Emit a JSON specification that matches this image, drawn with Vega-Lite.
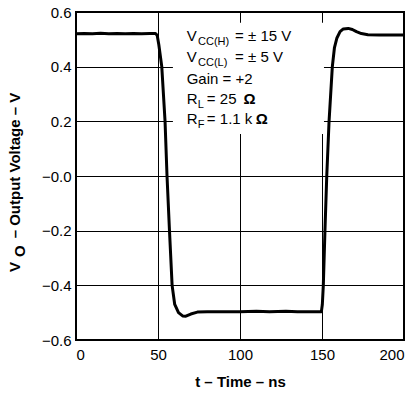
{
  "$schema": "https://vega.github.io/schema/vega-lite/v6.json",
  "width": 328,
  "height": 328,
  "autosize": "none",
  "padding": {"left": 76, "top": 12, "right": 12, "bottom": 54},
  "config": {
    "view": {"stroke": "black", "strokeWidth": 2},
    "font": "Liberation Sans"
  },
  "datasets": {
    "signal": [
      {"t": 0, "v": 0.52}, {"t": 5, "v": 0.521}, {"t": 10, "v": 0.52}, {"t": 15, "v": 0.522},
      {"t": 20, "v": 0.52}, {"t": 25, "v": 0.521}, {"t": 30, "v": 0.52}, {"t": 35, "v": 0.521},
      {"t": 40, "v": 0.52}, {"t": 45, "v": 0.521}, {"t": 48.5, "v": 0.521}, {"t": 49.5, "v": 0.515},
      {"t": 50.5, "v": 0.48}, {"t": 52.3, "v": 0.4}, {"t": 54.3, "v": 0.2}, {"t": 55.5, "v": 0.0},
      {"t": 57.0, "v": -0.2}, {"t": 58.6, "v": -0.4}, {"t": 60.2, "v": -0.47}, {"t": 62.5, "v": -0.5},
      {"t": 65, "v": -0.512}, {"t": 67, "v": -0.513}, {"t": 70, "v": -0.505}, {"t": 74, "v": -0.498},
      {"t": 80, "v": -0.497}, {"t": 90, "v": -0.497}, {"t": 100, "v": -0.497}, {"t": 110, "v": -0.495},
      {"t": 118, "v": -0.497}, {"t": 128, "v": -0.495}, {"t": 135, "v": -0.497}, {"t": 142, "v": -0.497},
      {"t": 149.6, "v": -0.497}, {"t": 150.2, "v": -0.47}, {"t": 150.8, "v": -0.4}, {"t": 151.8, "v": -0.2},
      {"t": 152.9, "v": 0.0}, {"t": 154.3, "v": 0.2}, {"t": 156.3, "v": 0.4}, {"t": 157.6, "v": 0.47},
      {"t": 159.1, "v": 0.505}, {"t": 161, "v": 0.528}, {"t": 163, "v": 0.538}, {"t": 166, "v": 0.54},
      {"t": 168.5, "v": 0.536}, {"t": 171, "v": 0.528}, {"t": 174, "v": 0.521}, {"t": 178, "v": 0.517},
      {"t": 185, "v": 0.516}, {"t": 200, "v": 0.516}
    ],
    "box": [{"t": 59.1, "t2": 151.2, "v": 0.154, "v2": 0.561}],
    "notes": [
      {"t": 67.5, "v": 0.494, "part": "main", "label": "V"},
      {"t": 74.4, "v": 0.494, "part": "sub", "label": "CC(H)"},
      {"t": 97, "v": 0.494, "part": "main", "label": "= ± 15 V"},
      {"t": 67.5, "v": 0.417, "part": "main", "label": "V"},
      {"t": 74.4, "v": 0.417, "part": "sub", "label": "CC(L)"},
      {"t": 97, "v": 0.417, "part": "main", "label": "= ± 5 V"},
      {"t": 67.5, "v": 0.337, "part": "main", "label": "Gain = +2"},
      {"t": 67.5, "v": 0.262, "part": "main", "label": "R"},
      {"t": 74.2, "v": 0.262, "part": "sub", "label": "L"},
      {"t": 79.8, "v": 0.262, "part": "main", "label": "= 25"},
      {"t": 102.2, "v": 0.262, "part": "bold", "label": "Ω"},
      {"t": 67.5, "v": 0.189, "part": "main", "label": "R"},
      {"t": 74.2, "v": 0.189, "part": "sub", "label": "F"},
      {"t": 79.8, "v": 0.189, "part": "main", "label": "= 1.1 k"},
      {"t": 109.6, "v": 0.189, "part": "bold", "label": "Ω"}
    ],
    "ytitle": [
      {"t": -37.2, "v": -0.351, "part": "main", "label": "V"},
      {"t": -37.2, "v": -0.296, "part": "sub", "label": "O"},
      {"t": -37.2, "v": -0.228, "part": "main", "label": "– Output Voltage – V"}
    ]
  },
  "encoding": {
    "x": {
      "field": "t", "type": "quantitative",
      "scale": {"domain": [0, 200], "nice": false, "zero": false},
      "axis": {
        "values": [0, 50, 100, 150, 200],
        "grid": true, "gridColor": "black", "gridWidth": 1, "gridOpacity": 1,
        "ticks": false, "domain": false,
        "labelFontSize": 15, "labelColor": "black", "labelPadding": 7,
        "title": "t – Time – ns", "titleFontSize": 15, "titleFontWeight": "bold",
        "titleColor": "black", "titlePadding": 12
      }
    },
    "y": {
      "field": "v", "type": "quantitative",
      "scale": {"domain": [-0.6, 0.6], "nice": false, "zero": false},
      "axis": {
        "values": [-0.6, -0.4, -0.2, 0, 0.2, 0.4, 0.6],
        "labelExpr": "datum.value == 0 ? '−0.0' : format(datum.value, '.1f')",
        "grid": true, "gridColor": "black", "gridWidth": 1, "gridOpacity": 1,
        "ticks": false, "domain": false,
        "labelFontSize": 15, "labelColor": "black", "labelPadding": 5,
        "title": null
      }
    }
  },
  "layer": [
    {
      "data": {"name": "box"},
      "mark": {"type": "rect", "color": "white", "opacity": 1},
      "encoding": {"x2": {"field": "t2"}, "y2": {"field": "v2"}}
    },
    {
      "data": {"name": "notes"},
      "transform": [{"filter": "datum.part == 'main'"}],
      "mark": {"type": "text", "align": "left", "baseline": "alphabetic", "fontSize": 15, "color": "black"},
      "encoding": {"text": {"field": "label"}}
    },
    {
      "data": {"name": "notes"},
      "transform": [{"filter": "datum.part == 'bold'"}],
      "mark": {"type": "text", "align": "left", "baseline": "alphabetic", "fontSize": 15, "fontWeight": "bold", "color": "black"},
      "encoding": {"text": {"field": "label"}}
    },
    {
      "data": {"name": "notes"},
      "transform": [{"filter": "datum.part == 'sub'"}],
      "mark": {"type": "text", "align": "left", "baseline": "alphabetic", "fontSize": 11, "dy": 4, "color": "black"},
      "encoding": {"text": {"field": "label"}}
    },
    {
      "data": {"name": "ytitle"},
      "transform": [{"filter": "datum.part == 'main'"}],
      "mark": {"type": "text", "align": "left", "baseline": "middle", "angle": 270, "fontSize": 15, "fontWeight": "bold", "color": "black", "clip": false},
      "encoding": {"text": {"field": "label"}}
    },
    {
      "data": {"name": "ytitle"},
      "transform": [{"filter": "datum.part == 'sub'"}],
      "mark": {"type": "text", "align": "left", "baseline": "middle", "angle": 270, "fontSize": 15, "fontWeight": "bold", "dy": 5, "color": "black", "clip": false},
      "encoding": {"text": {"field": "label"}}
    },
    {
      "data": {"name": "signal"},
      "mark": {"type": "line", "color": "black", "strokeWidth": 3, "strokeJoin": "round", "strokeCap": "round", "clip": true},
      "encoding": {}
    }
  ]
}
